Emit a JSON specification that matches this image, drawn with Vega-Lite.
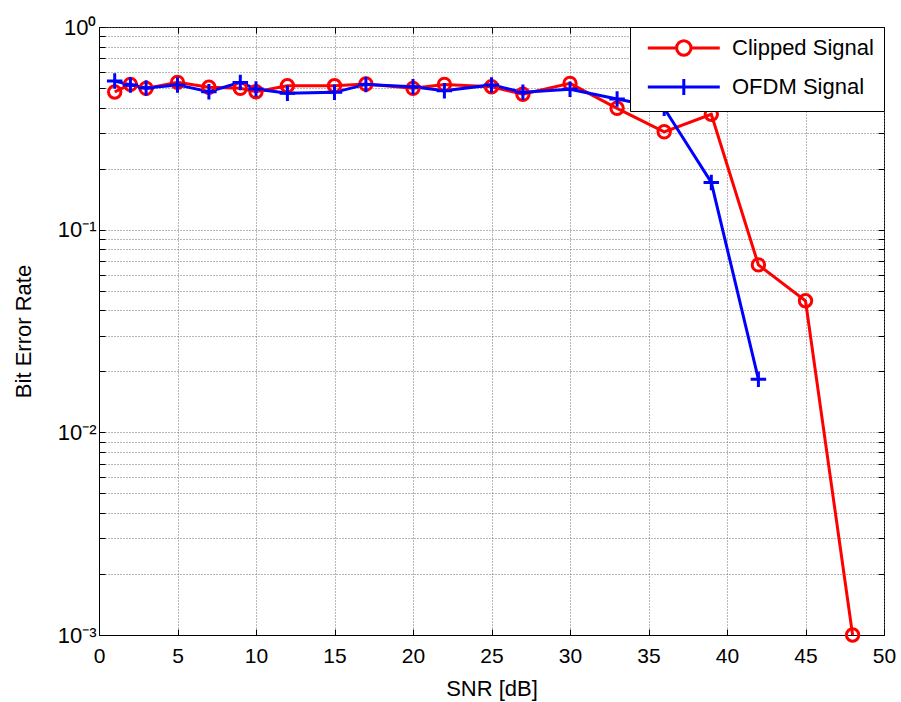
{
  "$schema": "https://vega.github.io/schema/vega-lite/v6.json",
  "width": 785,
  "height": 608,
  "autosize": "none",
  "padding": {"left": 99, "top": 27, "right": 17, "bottom": 67},
  "background": "white",
  "config": {
    "view": {"stroke": "black", "strokeWidth": 1},
    "font": "Liberation Sans"
  },
  "data": {
    "values": [
      {"snr": 1, "ber": 0.478, "series": "Clipped Signal"},
      {"snr": 2, "ber": 0.521, "series": "Clipped Signal"},
      {"snr": 3, "ber": 0.498, "series": "Clipped Signal"},
      {"snr": 5, "ber": 0.533, "series": "Clipped Signal"},
      {"snr": 7, "ber": 0.504, "series": "Clipped Signal"},
      {"snr": 9, "ber": 0.498, "series": "Clipped Signal"},
      {"snr": 10, "ber": 0.479, "series": "Clipped Signal"},
      {"snr": 12, "ber": 0.513, "series": "Clipped Signal"},
      {"snr": 15, "ber": 0.513, "series": "Clipped Signal"},
      {"snr": 17, "ber": 0.523, "series": "Clipped Signal"},
      {"snr": 20, "ber": 0.498, "series": "Clipped Signal"},
      {"snr": 22, "ber": 0.521, "series": "Clipped Signal"},
      {"snr": 25, "ber": 0.507, "series": "Clipped Signal"},
      {"snr": 27, "ber": 0.466, "series": "Clipped Signal"},
      {"snr": 30, "ber": 0.527, "series": "Clipped Signal"},
      {"snr": 33, "ber": 0.397, "series": "Clipped Signal"},
      {"snr": 36, "ber": 0.304, "series": "Clipped Signal"},
      {"snr": 39, "ber": 0.371, "series": "Clipped Signal"},
      {"snr": 42, "ber": 0.067, "series": "Clipped Signal"},
      {"snr": 45, "ber": 0.0446, "series": "Clipped Signal"},
      {"snr": 48, "ber": 0.001, "series": "Clipped Signal"},
      {"snr": 1, "ber": 0.541, "series": "OFDM Signal"},
      {"snr": 2, "ber": 0.518, "series": "OFDM Signal"},
      {"snr": 3, "ber": 0.5, "series": "OFDM Signal"},
      {"snr": 5, "ber": 0.518, "series": "OFDM Signal"},
      {"snr": 7, "ber": 0.479, "series": "OFDM Signal"},
      {"snr": 9, "ber": 0.533, "series": "OFDM Signal"},
      {"snr": 10, "ber": 0.494, "series": "OFDM Signal"},
      {"snr": 12, "ber": 0.471, "series": "OFDM Signal"},
      {"snr": 15, "ber": 0.476, "series": "OFDM Signal"},
      {"snr": 17, "ber": 0.521, "series": "OFDM Signal"},
      {"snr": 20, "ber": 0.507, "series": "OFDM Signal"},
      {"snr": 22, "ber": 0.485, "series": "OFDM Signal"},
      {"snr": 25, "ber": 0.518, "series": "OFDM Signal"},
      {"snr": 27, "ber": 0.476, "series": "OFDM Signal"},
      {"snr": 30, "ber": 0.493, "series": "OFDM Signal"},
      {"snr": 33, "ber": 0.441, "series": "OFDM Signal"},
      {"snr": 36, "ber": 0.397, "series": "OFDM Signal"},
      {"snr": 39, "ber": 0.171, "series": "OFDM Signal"},
      {"snr": 42, "ber": 0.0183, "series": "OFDM Signal"}
    ]
  },
  "resolve": {"axis": {"x": "independent", "y": "independent"}},
  "layer": [
    {
      "mark": {"type": "line", "strokeWidth": 3, "clip": false},
      "encoding": {
        "x": {
          "field": "snr", "type": "quantitative",
          "scale": {"domain": [0, 50], "nice": false},
          "axis": {
            "orient": "bottom",
            "values": [0, 5, 10, 15, 20, 25, 30, 35, 40, 45, 50],
            "title": "SNR [dB]",
            "titleFont": "Liberation Sans", "titleFontSize": 22, "titleFontWeight": "normal", "titleColor": "black",
            "titlePadding": 12,
            "labelFont": "Liberation Sans", "labelFontSize": 21, "labelColor": "black",
            "labelPadding": 16, "labelFlush": false,
            "tickSize": -6, "tickColor": "black", "tickWidth": 1,
            "domainColor": "black", "domainWidth": 1,
            "grid": true, "gridColor": "#707070", "gridDash": [1, 2], "gridWidth": 1, "gridOpacity": 1
          }
        },
        "y": {
          "field": "ber", "type": "quantitative",
          "scale": {"type": "log", "domain": [0.001, 1], "nice": false},
          "axis": {
            "orient": "left",
            "values": [0.001, 0.002, 0.003, 0.004, 0.005, 0.006, 0.007, 0.008, 0.009, 0.01, 0.02, 0.03, 0.04, 0.05, 0.06, 0.07, 0.08, 0.09, 0.1, 0.2, 0.3, 0.4, 0.5, 0.6, 0.7, 0.8, 0.9, 1],
            "labelExpr": "datum.value == 1 ? '10⁰' : datum.value == 0.1 ? '10⁻¹' : datum.value == 0.01 ? '10⁻²' : datum.value == 0.001 ? '10⁻³' : ''",
            "labelOverlap": false, "labelFlush": false,
            "title": "Bit Error Rate",
            "titleFont": "Liberation Sans", "titleFontSize": 22, "titleFontWeight": "normal", "titleColor": "black",
            "titlePadding": 22,
            "labelFont": "Liberation Sans", "labelFontSize": 22, "labelColor": "black",
            "labelPadding": 9,
            "tickSize": -6, "tickColor": "black", "tickWidth": 1,
            "domainColor": "black", "domainWidth": 1,
            "grid": true, "gridColor": "#707070", "gridDash": [1, 2], "gridWidth": 1, "gridOpacity": 1
          }
        },
        "color": {
          "field": "series", "type": "nominal",
          "scale": {"domain": ["Clipped Signal", "OFDM Signal"], "range": ["#ff0000", "#0000ff"]},
          "legend": {
            "title": null,
            "orient": "top-right",
            "offset": 0,
            "fillColor": "white",
            "strokeColor": "black",
            "padding": 10,
            "labelFont": "Liberation Sans",
            "labelFontSize": 22,
            "labelColor": "black",
            "labelOffset": 70,
            "symbolSize": 207,
            "symbolStrokeWidth": 3,
            "rowPadding": 11,
            "labelLimit": 300,
            "encode": {
              "symbols": {
                "update": {
                  "shape": {"signal": "datum.value === 'Clipped Signal' ? 'M-0.44,0L3.56,0M5.56,0L9.56,0M5.56,0A1,1,0,1,1,3.56,0A1,1,0,1,1,5.56,0' : 'M-0.44,0L9.56,0M4.56,-1.1L4.56,1.1'"},
                  "fill": {"value": "transparent"},
                  "strokeWidth": {"value": 3}
                }
              }
            }
          }
        }
      }
    },
    {
      "transform": [{"filter": "datum.series === 'Clipped Signal'"}],
      "mark": {"type": "point", "shape": "circle", "size": 154, "filled": false, "strokeWidth": 3, "opacity": 1, "clip": false},
      "encoding": {
        "x": {
          "field": "snr", "type": "quantitative",
          "axis": {
            "orient": "top",
            "values": [0, 5, 10, 15, 20, 25, 30, 35, 40, 45, 50],
            "labels": false, "title": null, "grid": false,
            "tickSize": -6, "tickColor": "black", "domain": false
          }
        },
        "y": {
          "field": "ber", "type": "quantitative",
          "axis": {
            "orient": "right",
            "values": [0.001, 0.002, 0.003, 0.004, 0.005, 0.006, 0.007, 0.008, 0.009, 0.01, 0.02, 0.03, 0.04, 0.05, 0.06, 0.07, 0.08, 0.09, 0.1, 0.2, 0.3, 0.4, 0.5, 0.6, 0.7, 0.8, 0.9, 1],
            "labels": false, "title": null, "grid": false,
            "tickSize": -6, "tickColor": "black", "domain": false
          }
        },
        "color": {"field": "series", "type": "nominal"}
      }
    },
    {
      "transform": [{"filter": "datum.series === 'OFDM Signal'"}],
      "mark": {"type": "point", "shape": "M-1,0L1,0M0,-1L0,1", "size": 240, "filled": false, "strokeWidth": 3, "opacity": 1, "clip": false},
      "encoding": {
        "x": {"field": "snr", "type": "quantitative", "axis": null},
        "y": {"field": "ber", "type": "quantitative", "axis": null},
        "color": {"field": "series", "type": "nominal"}
      }
    }
  ]
}
